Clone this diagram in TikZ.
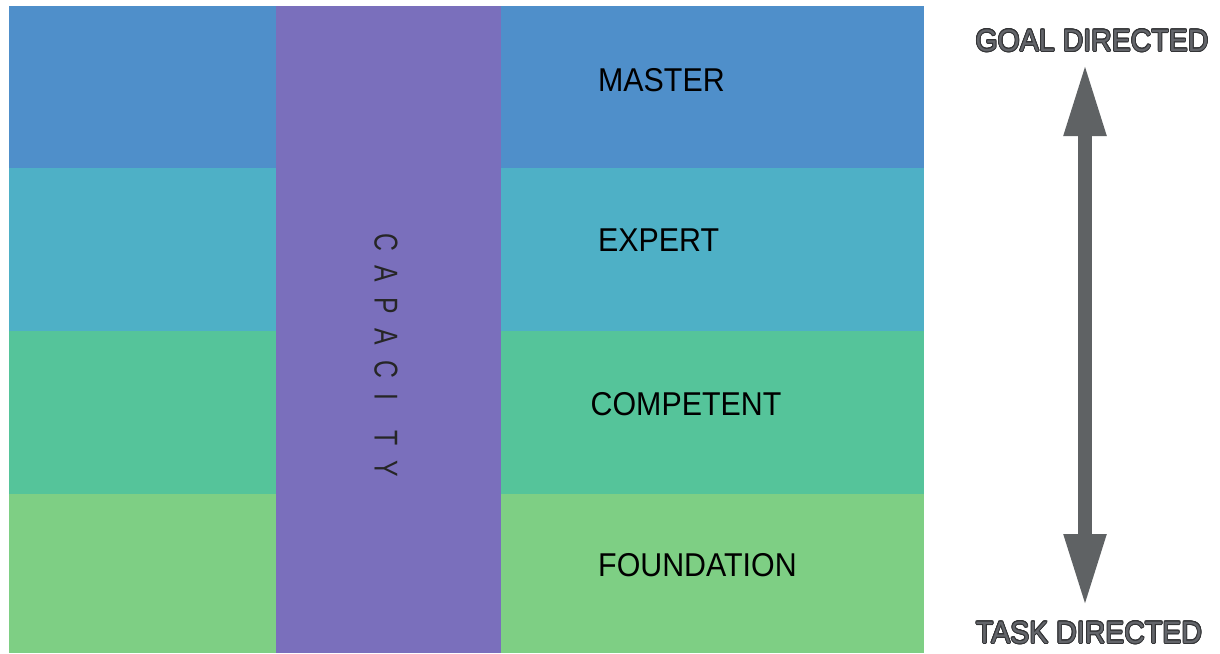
\documentclass[tikz,border=0pt]{standalone}
\usepackage{fontspec}
\setmainfont{Liberation Sans}
\usepackage[copies]{contour}
\usetikzlibrary{arrows.meta}
\definecolor{cMaster}{HTML}{4F8FCA}
\definecolor{cExpert}{HTML}{4EB0C6}
\definecolor{cComp}{HTML}{55C49A}
\definecolor{cFound}{HTML}{7ECF84}
\definecolor{cCap}{HTML}{7A6FBC}
\definecolor{cArrow}{HTML}{5F6264}
\definecolor{cTxtFill}{HTML}{63656A}
\definecolor{cTxtLine}{HTML}{333436}
\contourlength{0.9pt}
\newcommand{\capgap}{\hspace{20pt}}
\tikzset{
  lvl/.style={anchor=west, inner sep=0pt, text=black, font=\fontsize{33}{33}\selectfont},
  dirlabel/.style={inner sep=0pt, text=cTxtFill, font=\fontsize{31}{31}\selectfont},
  caplabel/.style={inner sep=0pt, rotate=-90, text=black!85, font=\fontsize{33}{33}\selectfont},
  dirarrow/.style={draw=cArrow, line width=14pt,
    {Triangle[length=73pt,width=39pt]}-{Triangle[length=73pt,width=39pt]}},
}
\begin{document}
\begin{tikzpicture}[x=1pt,y=-1pt]
\useasboundingbox (0,0) rectangle (1220,653);
\fill[white] (0,0) rectangle (1220,653);
% bands
\fill[cMaster] (9,6) rectangle (924,168);
\fill[cExpert] (9,168) rectangle (924,331);
\fill[cComp] (9,331) rectangle (924,494);
\fill[cFound] (9,494) rectangle (924,653);
\fill[cCap] (276,6) rectangle (501,653);
% level labels
\node[lvl] (master) at (598,80) {\scalebox{0.92}[1]{MASTER}};
\node[lvl] (expert) at (598,240) {\scalebox{0.92}[1]{EXPERT}};
\node[lvl] (competent) at (590.5,404) {\scalebox{0.92}[1]{COMPETENT}};
\node[lvl] (foundation) at (598,565) {\scalebox{0.92}[1]{FOUNDATION}};
% capacity
\node[caplabel] (capacity) at (386,355) {\scalebox{0.75}[1]{C\capgap A\capgap P\capgap A\capgap C\capgap I\capgap\capgap T\capgap Y}};
% direction labels
\node[dirlabel] (goal) at (1092,41) {\scalebox{0.92}[1]{\contour{cTxtLine}{GOAL DIRECTED}}};
\node[dirlabel] (task) at (1089,633) {\scalebox{0.92}[1]{\contour{cTxtLine}{TASK DIRECTED}}};
% arrow
\coordinate (tipT) at (1085,63);
\coordinate (tipB) at (1085,607);
\draw[dirarrow] (tipT) -- (tipB);
\end{tikzpicture}
\end{document}
